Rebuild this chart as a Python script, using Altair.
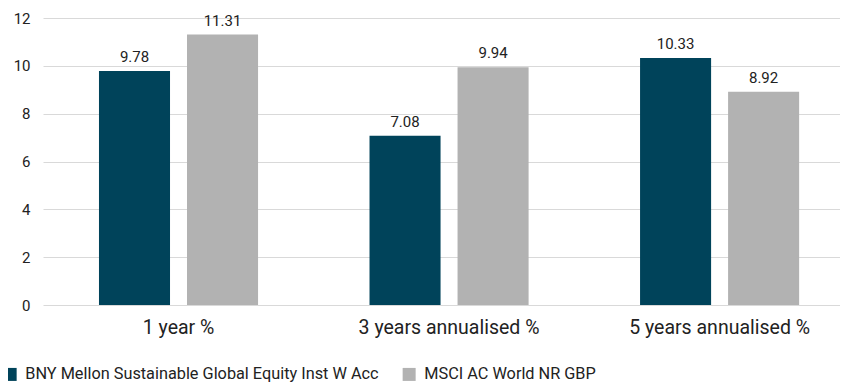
import altair as alt
import pandas as pd

categories = ["1 year %", "3 years annualised %", "5 years annualised %"]
series = ["BNY Mellon Sustainable Global Equity Inst W Acc", "MSCI AC World NR GBP"]
fund_values = [9.78, 7.08, 10.33]
index_values = [11.31, 9.94, 8.92]
colors = ["#00435A", "#B2B2B2"]
y_ticks = [0, 2, 4, 6, 8, 10, 12]

rows = []
for i, c in enumerate(categories):
    rows.append({"cat": c, "series": series[0], "value": fund_values[i]})
    rows.append({"cat": c, "series": series[1], "value": index_values[i]})
df = pd.DataFrame(rows)

FONT = "Roboto"

x_enc = alt.X("cat:N", sort=categories, title=None,
              scale=alt.Scale(paddingInner=0.412, paddingOuter=0.179, align=0.578, round=False),
              axis=alt.Axis(labelAngle=0, domain=False, ticks=False, labelFontSize=19.5,
                            labelColor="#222222", labelPadding=13, labelFont=FONT,
                            labelLimit=400))
xoff = alt.XOffset("series:N", sort=series,
                   scale=alt.Scale(paddingInner=0.193, paddingOuter=0, round=False))
y_enc = alt.Y("value:Q", title=None,
              scale=alt.Scale(domain=[0, 12], nice=False),
              axis=alt.Axis(values=y_ticks, domain=False, ticks=False, gridColor="#D9D9D9",
                            gridWidth=1, labelFontSize=15, labelColor="#222222",
                            labelPadding=13, labelFont=FONT))

base = alt.Chart(df)

bars = base.mark_bar().encode(
    x=x_enc, xOffset=xoff, y=y_enc,
    color=alt.Color("series:N", sort=series,
                    scale=alt.Scale(domain=series, range=colors),
                    legend=alt.Legend(title=None, orient="none", direction="horizontal",
                                      legendX=-41, legendY=348, symbolType="square",
                                      symbolSize=169, symbolStrokeWidth=0, labelFontSize=16.3,
                                      labelFont=FONT, labelColor="#222222", labelOffset=7,
                                      labelLimit=600, columnPadding=22, symbolOpacity=1)),
)

labels = base.mark_text(baseline="alphabetic", dy=-9, fontSize=15, font=FONT,
                        color="#222222").encode(
    x=x_enc, xOffset=xoff, y=y_enc,
    text=alt.Text("value:Q", format=".2f"),
)

chart = alt.layer(bars, labels).properties(
    width=797, height=287,
    autosize=alt.AutoSizeParams(type="none"),
    padding={"left": 35, "top": 10, "right": 0, "bottom": 78},
).configure_view(stroke=None)

chart.save("out.html", embed_options={"renderer": "svg", "actions": False})
